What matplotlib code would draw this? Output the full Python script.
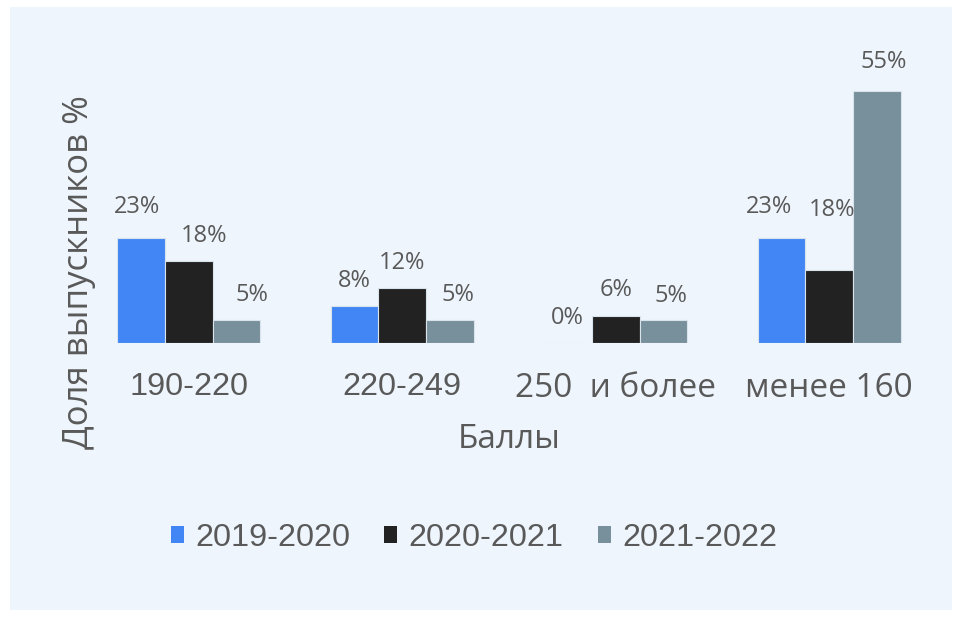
import matplotlib
matplotlib.use("Agg")
import matplotlib.pyplot as plt
from matplotlib.patches import Rectangle, Patch
import numpy as np

categories = ["190-220", "220-249", "250  и более", "менее 160"]
series_names = ["2019-2020", "2020-2021", "2021-2022"]
v2019 = [23, 8, 0, 23]
v2020 = [18, 12, 6, 16]
v2021 = [5, 5, 5, 55]
labels2019 = ["23%", "8%", "0%", "23%"]
labels2020 = ["18%", "12%", "6%", "18%"]
labels2021 = ["5%", "5%", "5%", "55%"]
colors = ["#4285F4", "#222222", "#78909C"]

# label offsets in pixels (style), per series x category
label_offsets = [
    [(-4, 31), (0, 25), (-1, 25), (-13, 31)],
    [(15, 25), (0, 25), (0, 25), (3, 60)],
    [(16, 25), (8, 25), (8, 24), (7, 29)],
]

W, H = 955, 617
fig = plt.figure(figsize=(W / 100, H / 100), dpi=100)
fig.patch.set_facecolor("white")
bg = "#EEF5FC"
fig.patches.append(Rectangle((10 / W, (H - 610) / H), (952 - 10) / W, (610 - 7) / H,
                             transform=fig.transFigure, facecolor=bg, edgecolor="none", zorder=-10))

ax = fig.add_axes([82 / W, (H - 343) / H, 854 / W, 275 / H])
ax.set_facecolor("none")
for s in ax.spines.values():
    s.set_visible(False)

x = np.arange(len(categories))
bw = 0.2225
txt_color = "#595959"
data = [v2019, v2020, v2021]
labels = [labels2019, labels2020, labels2021]
for i, (vals, labs, c) in enumerate(zip(data, labels, colors)):
    xs = x + (i - 1) * bw
    ax.bar(xs, vals, width=bw, color=c, edgecolor="#D9E3EC", linewidth=0.8)
    for j, (xx, v, t) in enumerate(zip(xs, vals, labs)):
        dx, dy = label_offsets[i][j]
        ax.annotate(t, (xx, v), xytext=(dx, dy), textcoords="offset pixels",
                    ha="center", va="center", fontsize=17, color=txt_color,
                    family="Open Sans")

ax.set_xlim(-0.5, 3.5)
ax.set_ylim(0, 60)
ax.set_yticks([])
ax.set_xticks(x)
ax.set_xticklabels(categories, fontsize=23.4, color=txt_color, family="Liberation Sans")
for k, lab in enumerate(ax.get_xticklabels()):
    if k >= 2:
        lab.set_family("Open Sans")
        lab.set_fontsize(24)
ax.tick_params(axis="x", length=0, pad=21)

ax.set_xlabel("Баллы", fontsize=24, color=txt_color, family="Open Sans", labelpad=13)
fig.text(79 / W, 1 - 272 / H, "Доля выпускников %", rotation=90, ha="center", va="center",
         fontsize=25, color=txt_color, family="Open Sans")

handles = [Patch(facecolor=c, edgecolor="none") for c in colors]
fig.legend(handles, series_names, loc="center", bbox_to_anchor=(474 / W, 1 - 538 / H),
           ncol=3, frameon=False, labelcolor=txt_color,
           prop={"family": "Liberation Sans", "size": 23.3},
           handlelength=0.4, handleheight=0.4, handletextpad=0.35, columnspacing=1.05)

fig.savefig("out.png", dpi=100, facecolor=fig.get_facecolor())
